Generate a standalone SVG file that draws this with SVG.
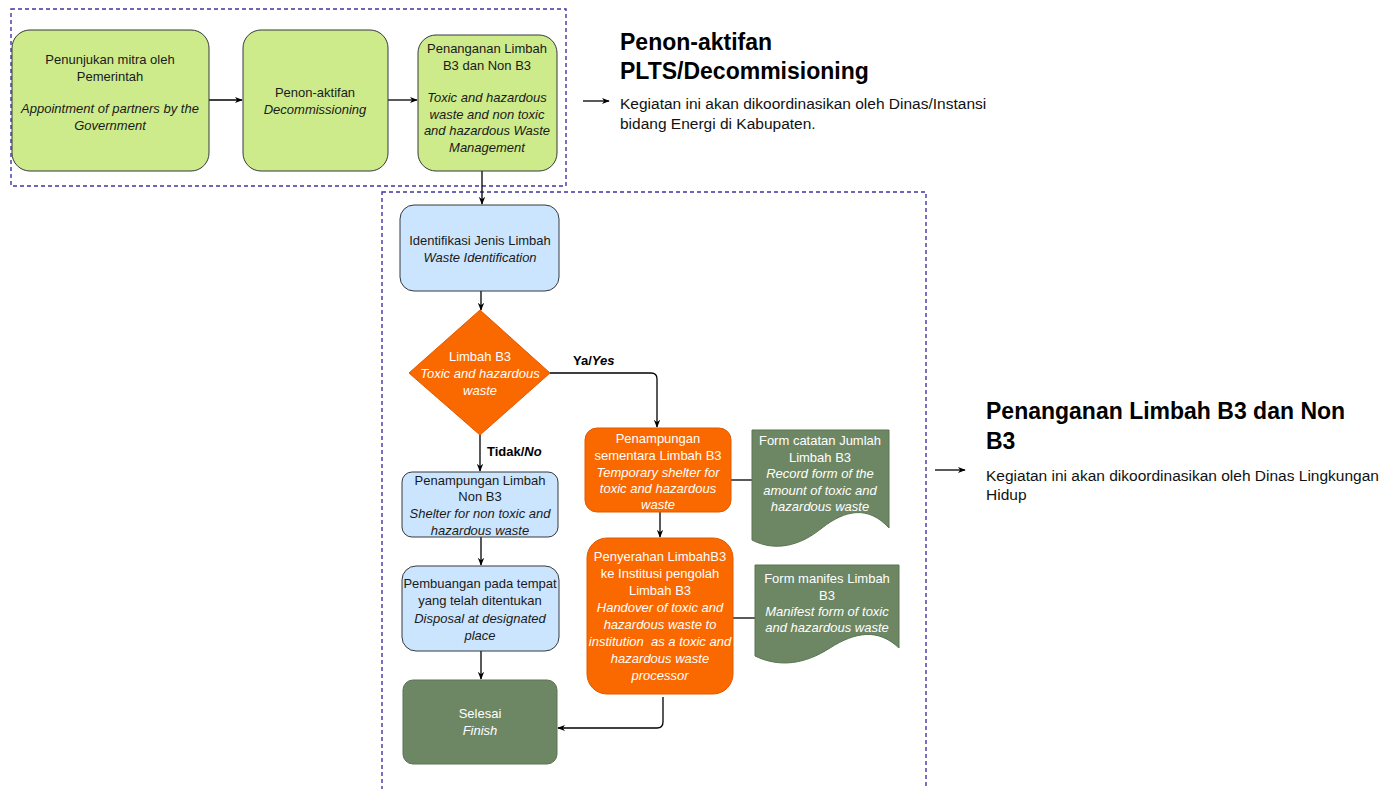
<svg xmlns="http://www.w3.org/2000/svg" width="1397" height="789" viewBox="0 0 1397 789">
  <defs>
    <marker id="arrow" viewBox="0 0 10 10" refX="9" refY="5" markerWidth="8" markerHeight="8" orient="auto" markerUnits="userSpaceOnUse">
      <path d="M0,1 L10,5 L0,9 L3,5 Z" fill="#000"/>
    </marker>
    <style>
      text { font-family: "Liberation Sans", Arial, sans-serif; }
      .frame { fill: none; stroke: #3f35a0; stroke-width: 1.4; stroke-dasharray: 4 3; }
      .lime { fill: #cdeb8b; stroke: #36393d; stroke-width: 1; }
      .sky { fill: #cce5ff; stroke: #36393d; stroke-width: 1; }
      .orange { fill: #fa6800; stroke: #e05a00; stroke-width: 1; }
      .moss { fill: #6d8764; stroke: #5a7452; stroke-width: 1; }
      .lbl { font-size: 13px; fill: #1a1a1a; text-anchor: middle; }
      .wlbl { font-size: 13px; fill: #ffffff; text-anchor: middle; }
      .it { font-style: italic; }
      .edge { fill: none; stroke: #000; stroke-width: 1.3; }
      .tag { font-size: 13px; font-weight: bold; fill: #000; }
      .title { font-size: 23px; font-weight: bold; fill: #000; }
      .body { font-size: 15.5px; fill: #111; }
    </style>
  </defs>

  <!-- dashed phase frames -->
  <g id="frames">
    <rect class="frame" x="11" y="9" width="555" height="177"/>
    <rect class="frame" x="382" y="192" width="544" height="602"/>
  </g>

  <!-- connectors -->
  <g id="connectors">
    <line class="edge" x1="209" y1="100" x2="242" y2="100" marker-end="url(#arrow)"/>
    <line class="edge" x1="388" y1="100" x2="417" y2="100" marker-end="url(#arrow)"/>
    <line class="edge" x1="482" y1="171" x2="482" y2="204" marker-end="url(#arrow)"/>
    <line class="edge" x1="481" y1="291" x2="481" y2="310" marker-end="url(#arrow)"/>
    <path class="edge" d="M550,373 H651 Q657,373 657,379 V427" marker-end="url(#arrow)"/>
    <line class="edge" x1="480" y1="435" x2="480" y2="471" marker-end="url(#arrow)"/>
    <line class="edge" x1="481" y1="537" x2="481" y2="565" marker-end="url(#arrow)"/>
    <line class="edge" x1="481" y1="651" x2="481" y2="679" marker-end="url(#arrow)"/>
    <line class="edge" x1="660" y1="512" x2="660" y2="537" marker-end="url(#arrow)"/>
    <path class="edge" d="M663,697 V722 Q663,728 657,728 H558" marker-end="url(#arrow)"/>
    <line class="edge" x1="731" y1="480" x2="752" y2="480"/>
    <line class="edge" x1="733" y1="618" x2="755" y2="618" stroke="#555"/>
    <line class="edge" x1="583" y1="101" x2="609" y2="101" marker-end="url(#arrow)"/>
    <line class="edge" x1="935" y1="470" x2="965" y2="470" marker-end="url(#arrow)"/>
  </g>

  <!-- decommissioning phase -->
  <g id="node-appointment">
    <rect class="lime" x="12" y="30" width="197" height="141" rx="18"/>
    <text class="lbl" x="110" y="64">Penunjukan mitra oleh</text>
    <text class="lbl" x="110" y="81">Pemerintah</text>
    <text class="lbl it" x="110" y="113">Appointment of partners by the</text>
    <text class="lbl it" x="110" y="130">Government</text>
  </g>
  <g id="node-decommissioning">
    <rect class="lime" x="243" y="30" width="145" height="141" rx="18"/>
    <text class="lbl" x="315" y="97">Penon-aktifan</text>
    <text class="lbl it" x="315" y="114">Decommissioning</text>
  </g>
  <g id="node-waste-management">
    <rect class="lime" x="418" y="35" width="139" height="136" rx="18"/>
    <text class="lbl" x="487" y="53">Penanganan Limbah</text>
    <text class="lbl" x="487" y="70">B3 dan Non B3</text>
    <text class="lbl it" x="487" y="102">Toxic and hazardous</text>
    <text class="lbl it" x="487" y="119">waste and non toxic</text>
    <text class="lbl it" x="487" y="135">and hazardous Waste</text>
    <text class="lbl it" x="487" y="152">Management</text>
  </g>

  <!-- waste handling phase -->
  <g id="node-identification">
    <rect class="sky" x="400" y="205" width="159" height="86" rx="14"/>
    <text class="lbl" x="480" y="245">Identifikasi Jenis Limbah</text>
    <text class="lbl it" x="480" y="262">Waste Identification</text>
  </g>
  <g id="node-decision">
    <polygon class="orange" points="480,310 550,373 480,435 409,373"/>
    <text class="wlbl" x="480" y="361">Limbah B3</text>
    <text class="wlbl it" x="480" y="378">Toxic and hazardous</text>
    <text class="wlbl it" x="480" y="395">waste</text>
  </g>
  <g id="edge-labels">
    <text class="tag" x="573" y="365">Ya/<tspan font-style="italic">Yes</tspan></text>
    <text class="tag" x="487" y="456">Tidak/<tspan font-style="italic">No</tspan></text>
  </g>
  <g id="node-nonb3-shelter">
    <rect class="sky" x="402" y="472" width="156" height="65" rx="10"/>
    <text class="lbl" x="480" y="485">Penampungan Limbah</text>
    <text class="lbl" x="480" y="501">Non B3</text>
    <text class="lbl it" x="480" y="518">Shelter for non toxic and</text>
    <text class="lbl it" x="480" y="535">hazardous waste</text>
  </g>
  <g id="node-disposal">
    <rect class="sky" x="402" y="566" width="157" height="85" rx="14"/>
    <text class="lbl" x="480" y="588">Pembuangan pada tempat</text>
    <text class="lbl" x="480" y="605">yang telah ditentukan</text>
    <text class="lbl it" x="480" y="623">Disposal at designated</text>
    <text class="lbl it" x="480" y="640">place</text>
  </g>
  <g id="node-finish">
    <rect class="moss" x="403" y="680" width="154" height="84" rx="10"/>
    <text class="wlbl" x="480" y="718">Selesai</text>
    <text class="wlbl it" x="480" y="735">Finish</text>
  </g>
  <g id="node-b3-shelter">
    <rect class="orange" x="585" y="428" width="146" height="84" rx="12"/>
    <text class="wlbl" x="658" y="443">Penampungan</text>
    <text class="wlbl" x="658" y="460">sementara Limbah B3</text>
    <text class="wlbl it" x="658" y="477">Temporary shelter for</text>
    <text class="wlbl it" x="658" y="493">toxic and hazardous</text>
    <text class="wlbl it" x="658" y="509">waste</text>
  </g>
  <g id="node-handover">
    <rect class="orange" x="587" y="538" width="146" height="156" rx="20"/>
    <text class="wlbl" x="660" y="561">Penyerahan LimbahB3</text>
    <text class="wlbl" x="660" y="578">ke Institusi pengolah</text>
    <text class="wlbl" x="660" y="595">Limbah B3</text>
    <text class="wlbl it" x="660" y="612">Handover of toxic and</text>
    <text class="wlbl it" x="660" y="629">hazardous waste to</text>
    <text class="wlbl it" x="660" y="646" xml:space="preserve">institution  as a toxic and</text>
    <text class="wlbl it" x="660" y="663">hazardous waste</text>
    <text class="wlbl it" x="660" y="680">processor</text>
  </g>
  <g id="node-record-form">
    <path class="moss" d="M752,430 H889 V528 C868,505 845,510 822,528 C800,546 775,552 752,540 Z"/>
    <text class="wlbl" x="820" y="445">Form catatan Jumlah</text>
    <text class="wlbl" x="820" y="462">Limbah B3</text>
    <text class="wlbl it" x="820" y="478">Record form of the</text>
    <text class="wlbl it" x="820" y="495">amount of toxic and</text>
    <text class="wlbl it" x="820" y="511">hazardous waste</text>
  </g>
  <g id="node-manifest-form">
    <path class="moss" d="M755,565 H899 V648 C878,628 855,632 830,648 C805,664 780,668 755,656 Z"/>
    <text class="wlbl" x="827" y="583">Form manifes Limbah</text>
    <text class="wlbl" x="827" y="600">B3</text>
    <text class="wlbl it" x="827" y="616">Manifest form of toxic</text>
    <text class="wlbl it" x="827" y="632">and hazardous waste</text>
  </g>

  <!-- phase notes -->
  <g id="note-decommissioning">
    <text class="title" x="620" y="50">Penon-aktifan</text>
    <text class="title" x="620" y="79">PLTS/Decommisioning</text>
    <text class="body" x="620" y="109">Kegiatan ini akan dikoordinasikan oleh Dinas/Instansi</text>
    <text class="body" x="620" y="129">bidang Energi di Kabupaten.</text>
  </g>
  <g id="note-waste">
    <text class="title" x="986" y="419">Penanganan Limbah B3 dan Non</text>
    <text class="title" x="986" y="449">B3</text>
    <text class="body" x="986" y="481">Kegiatan ini akan dikoordinasikan oleh Dinas Lingkungan</text>
    <text class="body" x="986" y="500">Hidup</text>
  </g>
</svg>
